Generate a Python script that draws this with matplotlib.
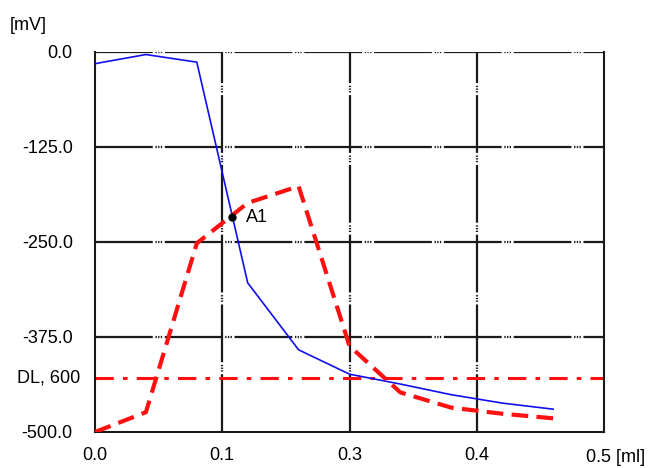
import matplotlib
matplotlib.use('Agg')
from matplotlib import pyplot as plt

# data
vol = [0, 0.05, 0.1, 0.15, 0.2, 0.25, 0.3, 0.35, 0.4, 0.45]
mv_blue = [-16, -4, -14, -304, -392, -424, -437, -451, -462, -470]
mv_red = [-500, -474, -252, -199, -177, -387, -448, -468, -476, -482]
dl_level = -429
a1_x, a1_y = 0.135, -218

xticks = [0, 0.125, 0.25, 0.375, 0.5]
xlabels = ['0.0', '0.1', '0.3', '0.4', '']
yticks = [0, -125, -250, -375, -500]
ylabels = ['0.0', '-125.0', '-250.0', '-375.0', '-500.0']

plt.rcParams['font.family'] = ['Liberation Sans', 'DejaVu Sans']

fig = plt.figure(figsize=(6.56, 4.68), dpi=100)
ax = fig.add_axes([95/656, 1-432/468, (604-95)/656, (432-51.5)/468])

gridstyle = (0, (26, 1.2, 0.6, 0.6, 0.6, 0.6, 0.6, 1.2))
for x in xticks[1:-1]:
    ax.axvline(x, color='#1a1a1a', lw=1.6, ls=gridstyle, zorder=1)
for y in yticks[:-1]:
    ax.axhline(y, color='#1a1a1a', lw=1.6, ls=gridstyle, zorder=1)

ax.axhline(dl_level, color='#ff1010', lw=2.2, ls=(0, (6, 3, 1.5, 3)), zorder=2)
ax.plot(vol, mv_blue, color='#1010ee', lw=1.2, zorder=3)
ax.plot(vol, mv_red, color='#ff1010', lw=3, ls=(0, (4, 2)), zorder=4)
ax.plot([a1_x], [a1_y], 'o', color='black', ms=5, zorder=5)
ax.text(a1_x + 0.013, a1_y, 'A1', fontsize=13, va='center', ha='left')

ax.set_xlim(0, 0.5)
ax.set_ylim(-500, 0)
ax.set_xticks(xticks)
ax.set_xticklabels(xlabels)
ax.set_yticks(yticks)
ax.set_yticklabels(ylabels)
ax.tick_params(axis='both', length=0, labelsize=13)
ax.tick_params(axis='y', pad=16)
ax.tick_params(axis='x', pad=11)

ax.spines['top'].set_visible(False)
for s in ['left', 'right', 'bottom']:
    ax.spines[s].set_linewidth(1.5)
    ax.spines[s].set_color('#1a1a1a')

fig.text(10/656, 1-25/468, '[mV]', fontsize=13, va='center', ha='left')
fig.text(80/656, 1-378/468, 'DL, 600', fontsize=13, va='center', ha='right')
fig.text(586/656, 1-457/468, '0.5 [ml]', fontsize=13, va='center', ha='left')

plt.savefig('out.png', dpi=100)
